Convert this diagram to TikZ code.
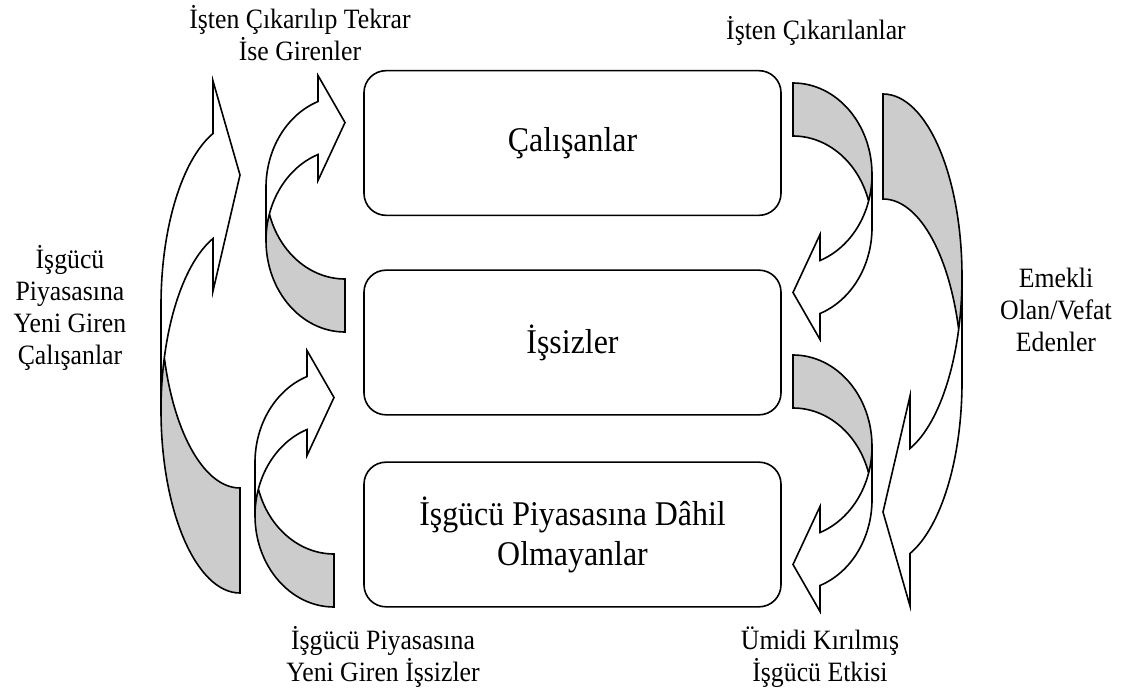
\documentclass[tikz,border=0pt]{standalone}
\usepackage{fontspec}
\setmainfont{Liberation Serif}[FakeStretch=0.92]
% Office-style curved arrow: #1 left, #2 top, #3 width, #4 height, #5 band, #6 head width, #7 head length, #8 xscale, #9 yscale
\newcommand{\carrow}[9]{%
  \pgfmathsetmacro\cxo{#1+#3*(1-#8)/2}%
  \pgfmathsetmacro\cyo{#2+#4*(1-#9)/2}%
  \pgfmathsetmacro\chR{#4/2-(#5+#6)/4}%
  \pgfmathsetmacro\cdy{\chR*sqrt(#3*#3-#7*#7)/#3}%
  \pgfmathsetmacro\cyiii{\chR+#5}%
  \pgfmathsetmacro\cyv{\chR+\cdy}%
  \pgfmathsetmacro\cyvii{\cyiii+\cdy}%
  \pgfmathsetmacro\cdh{(#6-#5)/2}%
  \pgfmathsetmacro\cyiv{\cyv-\cdh}%
  \pgfmathsetmacro\cyviii{\cyvii+\cdh}%
  \pgfmathsetmacro\cyvi{#4-#6/2}%
  \pgfmathsetmacro\cxi{#3-#7}%
  \pgfmathsetmacro\cphi{180-atan(sqrt(#3*#3-#7*#7)/#7)}%
  \pgfmathsetmacro\calpha{asin(#5/(2*\chR))}%
  \begin{scope}[shift={(\cxo,\cyo)},xscale=#8,yscale=#9]
    \fill[white] (0,\chR) arc[start angle=180,end angle=\cphi,x radius=#3,y radius=\chR]
      -- (\cxi,\cyiv) -- (#3,\cyvi) -- (\cxi,\cyviii) -- (\cxi,\cyvii)
      arc[start angle=\cphi,end angle=180,x radius=#3,y radius=\chR] -- cycle;
    \fill[backface] (#3,#5) arc[start angle=270,end angle={180+\calpha},x radius=#3,y radius=\chR]
      arc[start angle={180-\calpha},end angle=270,x radius=#3,y radius=\chR] -- cycle;
    \draw[shapeline] (0,\chR) arc[start angle=180,end angle=\cphi,x radius=#3,y radius=\chR]
      -- (\cxi,\cyiv) -- (#3,\cyvi) -- (\cxi,\cyviii) -- (\cxi,\cyvii)
      arc[start angle=\cphi,end angle=180,x radius=#3,y radius=\chR] -- (0,\chR)
      arc[start angle=180,end angle=270,x radius=#3,y radius=\chR] -- (#3,#5)
      arc[start angle=270,end angle={180+\calpha},x radius=#3,y radius=\chR];
  \end{scope}}
\begin{document}
\begin{tikzpicture}[x=0.75pt,y=-0.75pt,
  shapeline/.style={line width=1.2pt,line join=miter},
  backface/.style={fill=black!20},
  box/.style={draw,line width=1.2pt,rounded corners=16.5pt,minimum width=312.75pt,minimum height=108.5pt,inner sep=0pt,align=center,font=\fontsize{26}{30}\selectfont},
  lbl/.style={align=center,inner sep=0pt,font=\fontsize{21}{24}\selectfont}]
\useasboundingbox[fill=white] (0,0) rectangle (1128,699);
\carrow{161}{70}{79}{523}{105}{210}{27}{1}{-1}
\carrow{266}{70}{79}{262}{53}{105}{27}{1}{-1}
\carrow{255}{345}{79}{262}{53}{105}{27}{1}{-1}
\carrow{793}{83}{79}{262}{53}{105}{27}{-1}{1}
\carrow{793}{355}{79}{262}{53}{105}{27}{-1}{1}
\carrow{883}{94}{79}{523}{105}{210}{27}{-1}{1}
\node[box] (emp) at (572.5,143) {Çalışanlar};
\node[box] (unemp) at (572.5,342.5) {İşsizler};
\node[box] (outlf) at (572.5,534.5) {İşgücü Piyasasına Dâhil\\Olmayanlar};
\node[lbl] (lrehired) at (300,33) {İşten Çıkarılıp Tekrar\\İse Girenler};
\node[lbl] (lfired) at (816,31) {İşten Çıkarılanlar};
\node[lbl] (lnewemp) at (70,308) {İşgücü\\Piyasasına\\Yeni Giren\\Çalışanlar};
\node[lbl] (lretired) at (1056,310) {Emekli\\Olan/Vefat\\Edenler};
\node[lbl] (lnewunemp) at (383,657) {İşgücü Piyasasına\\Yeni Giren İşsizler};
\node[lbl] (ldiscour) at (820,657) {Ümidi Kırılmış\\İşgücü Etkisi};
\end{tikzpicture}
\end{document}
